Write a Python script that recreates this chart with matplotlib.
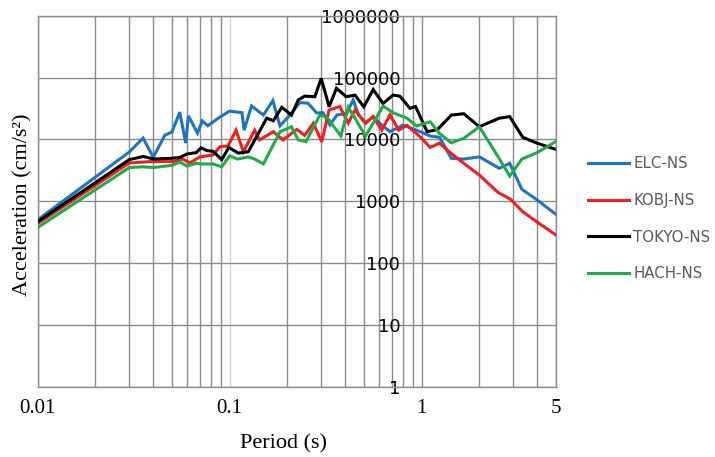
import numpy as np
import matplotlib
matplotlib.use("Agg")
import matplotlib.pyplot as plt
from matplotlib.ticker import FixedLocator, NullFormatter, NullLocator, LogLocator

# ELC-NS
elc_t = [0.01, 0.03, 0.0354, 0.04, 0.046, 0.05, 0.055, 0.059, 0.061, 0.068, 0.072, 0.077, 0.089, 0.1,
         0.116, 0.119, 0.13, 0.15, 0.168, 0.183, 0.206, 0.232, 0.256, 0.284, 0.306, 0.333, 0.362, 0.407,
         0.44, 0.47, 0.51, 0.56, 0.62, 0.686, 0.74, 0.8, 0.89, 0.98, 1.11, 1.24, 1.43, 1.66, 2.0, 2.54,
         2.88, 3.33, 4.0, 5.0]
elc_a = [500, 6250, 10500, 5130, 11700, 13100, 27600, 8700, 24000, 12600, 19900, 16600, 23000, 28600,
         27000, 14100, 34700, 24700, 42400, 16500, 24700, 39300, 38500, 26800, 27000, 17100, 24700, 26200,
         43400, 24700, 18300, 23300, 17000, 13300, 15000, 17000, 15000, 13400, 11300, 10800, 4920, 4800, 5220, 3400,
         4100, 1560, 1050, 616]

# KOBJ-NS
kobj_t = [0.01, 0.03, 0.0385, 0.0508, 0.057, 0.062, 0.070, 0.082, 0.089, 0.098,
          0.108, 0.118, 0.135, 0.143, 0.169, 0.19, 0.224, 0.246, 0.273, 0.302,
          0.33, 0.375, 0.415, 0.45, 0.51, 0.56, 0.62, 0.685, 0.76, 0.84,
          0.98, 1.11, 1.24, 1.42, 1.66, 2.0, 2.5, 2.9, 3.37, 4.0, 5.0]
kobj_a = [435, 4150, 4370, 4370, 4800, 4150, 5200, 5600, 7600, 7800,
          14100, 6300, 14100, 9800, 13300, 9800, 14500, 11600, 18300, 9100,
          29900, 34000, 18300, 30000, 18300, 23300, 14100, 24900, 14100, 16900,
          11100, 7400, 8700, 6000, 4100, 2650, 1390, 1080, 675, 460, 285]

# TOKYO-NS
tokyo_t = [0.01, 0.03, 0.0355, 0.04, 0.05, 0.055, 0.06, 0.067, 0.071, 0.076,
           0.082, 0.091, 0.099, 0.111, 0.125, 0.135, 0.156, 0.169, 0.187, 0.21,
           0.228, 0.246, 0.278, 0.30, 0.33, 0.36, 0.405, 0.45, 0.50, 0.56,
           0.63, 0.71, 0.77, 0.87, 0.93, 1.07, 1.21, 1.43, 1.66, 2.0,
           2.54, 2.88, 3.37, 3.95, 5.0]
tokyo_a = [467, 4700, 5300, 4800, 4950, 5100, 5800, 6100, 7300, 6600,
           6400, 4700, 7400, 6000, 6300, 9700, 22000, 20000, 33000, 24700,
           43500, 50000, 49000, 97000, 33600, 67000, 49000, 52000, 33600, 64000,
           38000, 52000, 50000, 31800, 34000, 13300, 14400, 24700, 26000, 16000,
           22000, 23300, 10800, 8800, 6900]

# HACH-NS
hach_t = [0.01, 0.03, 0.0355, 0.04, 0.05, 0.055, 0.06, 0.067, 0.071, 0.082,
          0.091, 0.1, 0.11, 0.125, 0.135, 0.15, 0.183, 0.21, 0.228, 0.25,
          0.295, 0.32, 0.38, 0.415, 0.45, 0.51, 0.56, 0.63, 0.72, 0.84,
          0.94, 1.11, 1.24, 1.43, 1.66, 2.0, 2.5, 2.88, 3.33, 4.0, 5.0]
hach_a = [375, 3500, 3600, 3500, 3800, 4300, 3700, 4100, 4000, 4000,
          3600, 5400, 4800, 5200, 4800, 4000, 13300, 16000, 9800, 9200,
          24700, 23300, 11300, 33000, 22000, 11300, 18300, 34500, 26500, 22000,
          16500, 19200, 12500, 8800, 10400, 16000, 5300, 2550, 4800, 6100, 9200]

names = ["ELC-NS", "KOBJ-NS", "TOKYO-NS", "HACH-NS"]
colors = ["#1f72c4", "#f01e1e", "#000000", "#20aa48"]

x_ticks = [0.01, 0.1, 1, 5]
x_labels = ["0.01", "0.1", "1", "5"]
y_ticks = [1, 10, 100, 1000, 10000, 100000, 1000000]
y_labels = ["1", "10", "100", "1000", "10000", "100000", "1000000"]

fig = plt.figure(figsize=(7.15, 4.57), dpi=100)
ax = fig.add_axes([37.7 / 715, 1 - 386.7 / 457, 518 / 715, 371 / 457])

series = [(elc_t, elc_a), (kobj_t, kobj_a), (tokyo_t, tokyo_a), (hach_t, hach_a)]
for (t, a), name, c in zip(series, names, colors):
    ax.plot(t, a, color=c, lw=2.2, label=name, solid_joinstyle="miter")

ax.set_xscale("log")
ax.set_yscale("log")
ax.set_xlim(0.01, 5)
ax.set_ylim(1, 1000000)

# y labels sit next to x = 0.8 as in the original (set before tick styling,
# moving the spine resets the ticks)
ax.spines["left"].set_position(("data", 0.8))
ax.spines["left"].set_visible(False)
for s in ["top", "right", "bottom"]:
    ax.spines[s].set_color("#8c8c8c")
    ax.spines[s].set_linewidth(1.0)
ax.axvline(0.01, color="#8c8c8c", lw=1.0, clip_on=False, zorder=0.5)

ax.xaxis.set_major_locator(FixedLocator(x_ticks))
ax.set_xticklabels(x_labels, family="Liberation Serif", fontsize=15)
ax.xaxis.set_minor_locator(LogLocator(subs=np.arange(2, 10)))
ax.xaxis.set_minor_formatter(NullFormatter())
ax.yaxis.set_major_locator(FixedLocator(y_ticks))
ax.set_yticklabels(y_labels, family="DejaVu Sans", fontsize=13)
ax.yaxis.set_minor_locator(NullLocator())

ax.tick_params(axis="both", which="both", length=0)
ax.tick_params(axis="x", pad=9)
ax.tick_params(axis="y", pad=2)

ax.set_axisbelow(True)
ax.grid(True, which="both", axis="x", color="#8c8c8c", lw=1.0)
ax.grid(True, which="major", axis="y", color="#8c8c8c", lw=1.0)
for tk in ax.xaxis.get_major_ticks():
    if abs(tk.get_loc() - 0.1) < 1e-9:
        tk.gridline.set_color("#d4d4d4")

ax.set_xlabel("Period (s)", family="Liberation Serif", fontsize=16)
ax.xaxis.set_label_coords(0.474, -0.128)
ax.set_ylabel("Acceleration (cm/s²)", family="Liberation Serif", fontsize=16)
ax.yaxis.set_label_coords(-0.011, 0.49)

leg = ax.legend(loc="upper left", bbox_to_anchor=(588 / 715, 1 - 156 / 457),
                bbox_transform=fig.transFigure, frameon=False, borderpad=0,
                borderaxespad=0, prop={"family": "DejaVu Sans", "size": 10.8},
                handlelength=2.75, handletextpad=0.28, labelspacing=1.45)
for txt in leg.get_texts():
    txt.set_color("#595959")

fig.savefig("out.png", dpi=100)
